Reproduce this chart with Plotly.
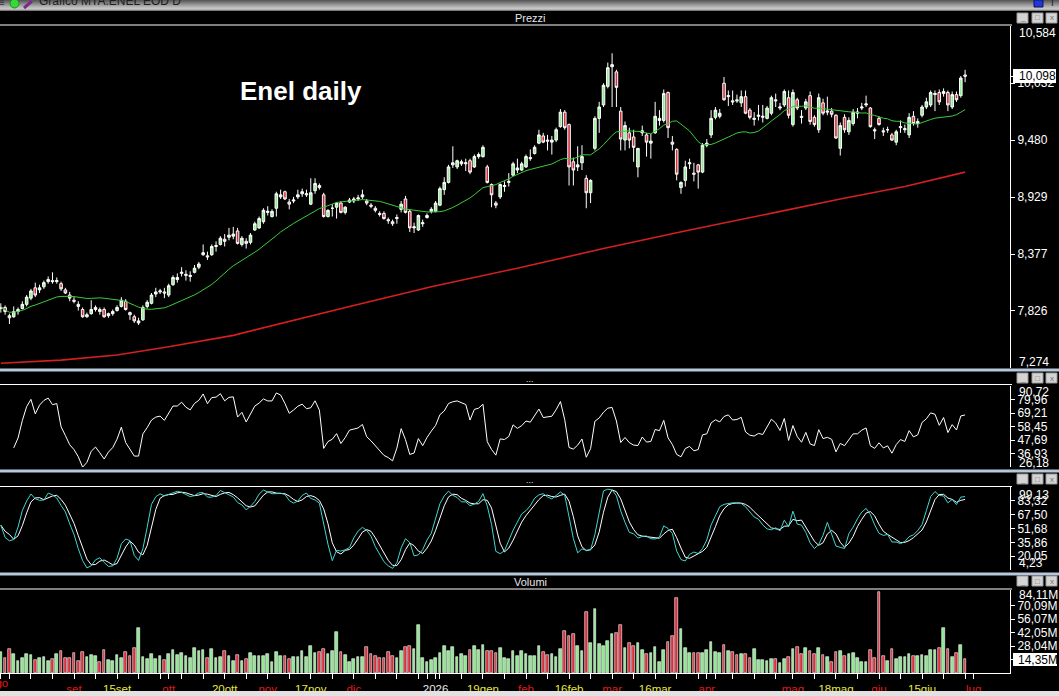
import plotly.graph_objects as go
import pandas as pd

W, H = 1059, 696

# ---------------- data ----------------
open_ = [7.85, 7.86, 7.78, 7.77, 7.82, 7.85, 7.89, 7.95, 8.05, 8.03,
         8.06, 8.11, 8.12, 8.11, 8.09, 8.03, 7.98, 7.93, 7.89, 7.84,
         7.77, 7.80, 7.84, 7.84, 7.84, 7.78, 7.80, 7.83, 7.87, 7.92,
         7.81, 7.77, 7.71, 7.74, 7.87, 7.90, 7.99, 8.01, 8.01, 7.98,
         8.08, 8.13, 8.19, 8.17, 8.16, 8.20, 8.25, 8.37, 8.36, 8.37,
         8.45, 8.47, 8.52, 8.54, 8.55, 8.60, 8.47, 8.50, 8.49, 8.61,
         8.63, 8.69, 8.78, 8.74, 8.82, 8.93, 8.98, 8.88, 8.89, 8.93,
         8.96, 8.95, 8.86, 8.99, 9.04, 8.95, 8.74, 8.82, 8.83, 8.87,
         8.78, 8.88, 8.89, 8.91, 8.93, 8.89, 8.85, 8.82, 8.77, 8.77,
         8.71, 8.69, 8.72, 8.81, 8.91, 8.79, 8.63, 8.61, 8.67, 8.73,
         8.79, 8.79, 8.85, 9.00, 9.07, 9.24, 9.22, 9.25, 9.25, 9.28,
         9.22, 9.32, 9.32, 9.22, 9.05, 8.87, 8.93, 9.03, 9.07, 9.14,
         9.19, 9.19, 9.22, 9.30, 9.35, 9.45, 9.52, 9.48, 9.46, 9.48,
         9.61, 9.75, 9.63, 9.27, 9.22, 9.26, 9.11, 8.97, 9.40, 9.69,
         9.82, 10.00, 10.19, 10.14, 9.76, 9.48, 9.55, 9.51, 9.22, 9.55,
         9.53, 9.45, 9.55, 9.67, 9.67, 9.94, 9.46, 9.39, 9.02, 9.09,
         9.25, 9.16, 9.24, 9.17, 9.43, 9.53, 9.70, 9.71, 10.03, 9.90,
         9.86, 9.87, 9.84, 9.90, 9.77, 9.68, 9.71, 9.70, 9.69, 9.74,
         9.87, 9.79, 9.82, 9.89, 9.63, 9.87, 9.71, 9.79, 9.91, 9.70,
         9.58, 9.84, 9.75, 9.76, 9.72, 9.40, 9.70, 9.56, 9.64, 9.74,
         9.79, 9.82, 9.79, 9.58, 9.69, 9.57, 9.58, 9.53, 9.46, 9.60,
         9.58, 9.53, 9.71, 9.64, 9.72, 9.80, 9.82, 9.92, 9.94, 9.93,
         9.94, 9.80, 9.92, 9.91, 10.11]

high = [7.90, 7.88, 7.80, 7.87, 7.86, 7.92, 7.98, 8.04, 8.10, 8.08,
        8.12, 8.16, 8.20, 8.15, 8.11, 8.05, 8.01, 7.96, 7.92, 7.86,
        7.81, 7.93, 7.88, 7.86, 7.86, 7.81, 7.84, 7.88, 7.96, 7.94,
        7.82, 7.79, 7.76, 7.88, 7.93, 8.00, 8.05, 8.04, 8.05, 8.09,
        8.17, 8.19, 8.25, 8.22, 8.21, 8.27, 8.30, 8.47, 8.40, 8.47,
        8.50, 8.55, 8.57, 8.63, 8.64, 8.63, 8.55, 8.53, 8.58, 8.69,
        8.74, 8.82, 8.84, 8.81, 8.98, 9.00, 8.99, 8.91, 8.93, 9.00,
        9.01, 9.00, 9.11, 9.11, 9.06, 8.97, 8.81, 8.86, 8.88, 8.89,
        8.84, 8.92, 8.93, 8.95, 9.00, 8.91, 8.87, 8.84, 8.79, 8.79,
        8.73, 8.71, 8.76, 8.89, 8.94, 8.81, 8.68, 8.76, 8.71, 8.77,
        8.83, 8.89, 9.03, 9.12, 9.24, 9.42, 9.29, 9.29, 9.30, 9.30,
        9.34, 9.36, 9.43, 9.24, 9.06, 8.89, 9.06, 9.08, 9.16, 9.27,
        9.30, 9.27, 9.34, 9.39, 9.43, 9.58, 9.55, 9.53, 9.52, 9.60,
        9.78, 9.77, 9.64, 9.31, 9.42, 9.43, 9.14, 9.10, 9.71, 9.85,
        10.03, 10.23, 10.32, 10.16, 9.80, 9.66, 9.60, 9.58, 9.40, 9.62,
        9.55, 9.54, 9.85, 9.77, 9.97, 9.95, 9.52, 9.40, 9.08, 9.28,
        9.30, 9.26, 9.25, 9.45, 9.49, 9.77, 9.80, 9.78, 10.09, 9.96,
        9.96, 9.92, 9.96, 9.96, 9.79, 9.75, 9.82, 9.82, 9.81, 9.91,
        9.93, 9.84, 9.97, 9.96, 9.97, 9.89, 9.77, 9.88, 9.95, 9.72,
        9.93, 9.88, 9.90, 9.79, 9.73, 9.65, 9.73, 9.70, 9.78, 9.79,
        9.84, 9.91, 9.80, 9.60, 9.71, 9.60, 9.61, 9.55, 9.58, 9.67,
        9.63, 9.74, 9.76, 9.69, 9.82, 9.89, 9.96, 9.96, 9.97, 9.98,
        9.96, 9.95, 9.95, 10.10, 10.16]

low = [7.81, 7.79, 7.70, 7.76, 7.79, 7.84, 7.87, 7.93, 7.96, 8.00,
       8.04, 8.09, 8.09, 8.09, 8.02, 7.99, 7.92, 7.90, 7.83, 7.76,
       7.76, 7.79, 7.82, 7.79, 7.76, 7.76, 7.78, 7.82, 7.86, 7.83,
       7.74, 7.71, 7.69, 7.73, 7.85, 7.89, 7.96, 7.99, 7.95, 7.96,
       8.07, 8.10, 8.16, 8.12, 8.11, 8.19, 8.23, 8.36, 8.32, 8.36,
       8.40, 8.46, 8.45, 8.51, 8.52, 8.47, 8.45, 8.43, 8.47, 8.60,
       8.62, 8.67, 8.75, 8.73, 8.74, 8.91, 8.90, 8.81, 8.87, 8.91,
       8.93, 8.93, 8.85, 8.96, 9.00, 8.73, 8.73, 8.74, 8.72, 8.77,
       8.76, 8.87, 8.87, 8.89, 8.91, 8.85, 8.82, 8.78, 8.74, 8.71,
       8.67, 8.65, 8.67, 8.78, 8.77, 8.59, 8.58, 8.60, 8.64, 8.72,
       8.77, 8.78, 8.84, 8.95, 9.06, 9.21, 9.20, 9.23, 9.18, 9.15,
       9.21, 9.30, 9.31, 9.06, 8.83, 8.82, 8.91, 8.98, 9.03, 9.13,
       9.16, 9.18, 9.21, 9.28, 9.34, 9.44, 9.45, 9.38, 9.34, 9.46,
       9.60, 9.58, 9.04, 9.04, 9.18, 9.19, 8.82, 8.87, 9.38, 9.55,
       9.80, 9.98, 9.80, 9.80, 9.38, 9.38, 9.40, 9.27, 9.12, 9.52,
       9.32, 9.30, 9.54, 9.62, 9.65, 9.50, 9.38, 9.09, 8.96, 9.03,
       9.20, 9.08, 9.01, 9.16, 9.41, 9.50, 9.68, 9.69, 9.86, 9.81,
       9.82, 9.84, 9.80, 9.73, 9.68, 9.62, 9.67, 9.65, 9.68, 9.72,
       9.80, 9.77, 9.80, 9.69, 9.61, 9.77, 9.64, 9.77, 9.63, 9.61,
       9.55, 9.72, 9.72, 9.70, 9.49, 9.33, 9.55, 9.53, 9.62, 9.69,
       9.77, 9.80, 9.60, 9.49, 9.62, 9.52, 9.55, 9.47, 9.43, 9.55,
       9.55, 9.50, 9.62, 9.60, 9.70, 9.78, 9.80, 9.76, 9.82, 9.90,
       9.76, 9.78, 9.85, 9.89, 10.04]

close = [7.86, 7.82, 7.76, 7.82, 7.84, 7.89, 7.96, 8.02, 7.98, 8.05,
         8.10, 8.13, 8.11, 8.12, 8.04, 8.00, 7.95, 7.92, 7.87, 7.77,
         7.79, 7.84, 7.86, 7.82, 7.77, 7.80, 7.82, 7.86, 7.93, 7.84,
         7.79, 7.73, 7.73, 7.86, 7.91, 7.98, 8.01, 8.02, 8.00, 8.07,
         8.15, 8.15, 8.20, 8.18, 8.17, 8.24, 8.28, 8.39, 8.35, 8.45,
         8.46, 8.53, 8.50, 8.56, 8.57, 8.48, 8.53, 8.48, 8.56, 8.67,
         8.72, 8.80, 8.79, 8.79, 8.96, 8.95, 8.91, 8.86, 8.90, 8.95,
         8.98, 8.96, 8.97, 9.06, 9.02, 8.74, 8.80, 8.82, 8.87, 8.78,
         8.83, 8.90, 8.91, 8.92, 8.95, 8.87, 8.84, 8.80, 8.76, 8.72,
         8.70, 8.67, 8.73, 8.86, 8.78, 8.63, 8.64, 8.75, 8.68, 8.75,
         8.81, 8.87, 9.01, 9.07, 9.22, 9.26, 9.28, 9.27, 9.26, 9.17,
         9.32, 9.34, 9.41, 9.07, 8.95, 8.85, 9.05, 9.04, 9.08, 9.25,
         9.21, 9.25, 9.32, 9.31, 9.41, 9.53, 9.46, 9.47, 9.48, 9.58,
         9.75, 9.60, 9.22, 9.19, 9.24, 9.32, 8.97, 9.09, 9.69, 9.80,
         10.01, 10.18, 10.21, 9.99, 9.49, 9.62, 9.48, 9.41, 9.40, 9.57,
         9.46, 9.47, 9.71, 9.69, 9.93, 9.60, 9.44, 9.15, 9.07, 9.22,
         9.26, 9.15, 9.17, 9.43, 9.45, 9.69, 9.77, 9.74, 9.87, 9.91,
         9.85, 9.86, 9.90, 9.74, 9.70, 9.69, 9.72, 9.71, 9.79, 9.89,
         9.86, 9.80, 9.95, 9.72, 9.94, 9.79, 9.70, 9.85, 9.66, 9.63,
         9.89, 9.74, 9.76, 9.73, 9.50, 9.62, 9.58, 9.67, 9.75, 9.75,
         9.80, 9.83, 9.61, 9.57, 9.63, 9.56, 9.58, 9.48, 9.56, 9.61,
         9.59, 9.70, 9.64, 9.66, 9.80, 9.85, 9.94, 9.93, 9.85, 9.95,
         9.82, 9.92, 9.87, 10.08, 10.098]

volume_m = [22, 15.5, 25, 20, 12.5, 15.5, 19.5, 19, 13, 15.5,
            16.5, 12.5, 14.5, 19.5, 22.5, 15.5, 15.5, 20.5, 12.5, 21.5,
            16.5, 19, 17.5, 11.5, 24, 13.5, 12.5, 19, 15.5, 21.5,
            18, 26, 47, 16.5, 14.5, 19.5, 14.5, 17.5, 13.5, 19.5,
            24, 19, 20.5, 18, 15.5, 26, 23, 24, 16, 25,
            16, 16.5, 22.5, 17.5, 12.5, 18.5, 12.5, 14.5, 20.5, 17.5,
            17.5, 17.5, 19.5, 11.5, 22, 17.5, 17.5, 14.5, 16.5, 16.5,
            22.5, 16.5, 28, 20.5, 21.5, 25, 19.5, 22.5, 42.5, 21.5,
            19, 11.5, 14.5, 16.5, 16.5, 27, 19.5, 17.5, 15.5, 16,
            21.5, 17.5, 16, 22.5, 27, 28, 25, 50, 15.5, 11.5,
            13.5, 15.5, 20.5, 28, 22.5, 27, 16.5, 19.5, 17.5, 24,
            28, 24, 29, 22.5, 22.5, 20.5, 26, 15.5, 14.5, 22.5,
            17.5, 22.5, 19.5, 18, 17.5, 28, 21.5, 19, 20, 16.5,
            25, 43.5, 38, 40, 28, 22.5, 63, 31, 66, 30,
            28, 33, 40, 41.5, 50, 26, 31, 28, 31, 23.5,
            19.5, 20.5, 27, 11.5, 24, 32, 38, 78, 45.5, 26,
            21, 21, 21, 21, 24, 32, 22, 21, 29, 22.5,
            21.5, 18.5, 19.5, 19.5, 15.5, 25, 13.5, 13.5, 12.5, 14.5,
            14.5, 10.5, 14.5, 16.5, 25, 27, 19.5, 26, 22.5, 19.5,
            26, 18.5, 16.5, 11.5, 21.5, 22.5, 17.5, 19.5, 20.5, 15.5,
            11.5, 11.5, 24, 15.5, 84, 17.5, 12.5, 25, 14.5, 16.5,
            16.5, 19.5, 17.5, 17.5, 19, 17.5, 24, 24, 26, 47,
            25, 16.5, 21, 29, 14.35]

# 200-day moving average (red), read at a few bars
ma200_bar = [0, 14, 27, 39, 54, 70, 81, 100, 120, 140, 160, 180, 195, 210, 224]
ma200_val = [7.32, 7.35, 7.40, 7.48, 7.59, 7.76, 7.87, 8.06, 8.24, 8.43, 8.61, 8.78, 8.91, 9.03, 9.17]

holidays = ["2025-12-24", "2025-12-25", "2025-12-26", "2025-12-31", "2026-01-01",
            "2026-04-03", "2026-04-06", "2026-05-01"]
label_dates = ["2025-09-01", "2025-09-15", "2025-10-01", "2025-10-20", "2025-11-03", "2025-11-17",
               "2025-12-01", "2026-01-02", "2026-01-19", "2026-02-02", "2026-02-16", "2026-03-02",
               "2026-03-16", "2026-04-01", "2026-05-04", "2026-05-18", "2026-06-01", "2026-06-15",
               "2026-07-01"]
label_text = ["set", "15set", "ott", "20ott", "nov", "17nov", "dic", "2026", "19gen", "feb", "16feb",
              "mar", "16mar", "apr", "mag", "18mag", "giu", "15giu", "lug"]
label_kind = ["m", "d", "m", "d", "m", "d", "m", "y", "d", "m", "d", "m", "d", "m", "m", "d", "m", "d", "m"]

price_ticks = [7.274, 7.826, 8.377, 8.929, 9.480, 10.032, 10.584]
rsi_ticks = [26.18, 36.93, 47.69, 58.45, 69.21, 79.96, 90.72]
stoch_ticks = [4.23, 20.05, 35.86, 51.68, 67.50, 83.32, 99.13]
vol_ticks = [0, 14.02, 28.04, 42.05, 56.07, 70.09, 84.11]

# ---------------- derived ----------------
N = len(close)
cal = [d for d in pd.bdate_range("2025-08-07", "2026-07-03") if d.strftime("%Y-%m-%d") not in holidays]
cal_s = [d.strftime("%Y-%m-%d") for d in cal]
pos = {s: i for i, s in enumerate(cal_s)}
x = list(range(N))

c = pd.Series(close)
hi = pd.Series([max(a, b, h) for a, b, h in zip(open_, close, high)])
lo = pd.Series([min(a, b, l) for a, b, l in zip(open_, close, low)])

ma20 = c.rolling(20, min_periods=1).mean()

d = c.diff()
g = d.clip(lower=0)
l_ = (-d).clip(lower=0)
ag = g.ewm(alpha=1 / 9, adjust=True).mean()
al = l_.ewm(alpha=1 / 9, adjust=True).mean()
rsi = 100 - 100 / (1 + ag / al)
rsi[:3] = None

hh = hi.rolling(14, min_periods=1).max()
ll = lo.rolling(14, min_periods=1).min()
kraw = 100 * (c - ll) / (hh - ll)
k_slow = kraw.rolling(3, min_periods=1).mean()
d_slow = k_slow.rolling(3, min_periods=1).mean()

up = [cl >= op for op, cl in zip(open_, close)]
vol_colors = ["#8fe88f" if u else "#d8303c" for u in up]

# ---------------- figure ----------------
def X(p):
    return p / W


def Y(p):
    return 1 - p / H


XR = [-0.19, 234.43]
XD = [0, 1010 / W]
FONT = "Liberation Sans, Arial, sans-serif"

fig = go.Figure()
fig.add_trace(go.Candlestick(
    x=x, open=open_, high=hi, low=lo, close=close,
    increasing=dict(fillcolor="#93ec93", line=dict(color="white", width=1)),
    decreasing=dict(fillcolor="#cc2e3a", line=dict(color="white", width=1)),
    xaxis="x", yaxis="y", showlegend=False, hoverinfo="skip"))
fig.add_trace(go.Scatter(x=x, y=ma20, mode="lines", line=dict(color="#3ccc3c", width=1),
                         xaxis="x", yaxis="y", showlegend=False, hoverinfo="skip"))
fig.add_trace(go.Scatter(x=ma200_bar, y=ma200_val, mode="lines", line=dict(color="#d42020", width=1.6),
                         xaxis="x", yaxis="y", showlegend=False, hoverinfo="skip"))
fig.add_trace(go.Scatter(x=x, y=rsi, mode="lines", line=dict(color="white", width=1),
                         xaxis="x2", yaxis="y2", showlegend=False, hoverinfo="skip"))
fig.add_trace(go.Scatter(x=x, y=d_slow, mode="lines", line=dict(color="white", width=1),
                         xaxis="x3", yaxis="y3", showlegend=False, hoverinfo="skip"))
fig.add_trace(go.Scatter(x=x, y=k_slow, mode="lines", line=dict(color="#3fd8d0", width=1),
                         xaxis="x3", yaxis="y3", showlegend=False, hoverinfo="skip"))
fig.add_trace(go.Bar(x=x, y=volume_m, width=0.62,
                     marker=dict(color=vol_colors, line=dict(color="white", width=0.6)),
                     xaxis="x4", yaxis="y4", showlegend=False, hoverinfo="skip"))

tick_font = dict(family=FONT, size=12, color="white")


def yax(dom_px, rng, tv, tt):
    return dict(domain=[Y(dom_px[1]), Y(dom_px[0])], range=rng, side="right",
                tickvals=tv, ticktext=tt, ticks="outside", ticklen=4, tickcolor="white",
                showline=True, linecolor="white", linewidth=1, showgrid=False, zeroline=False,
                tickfont=tick_font, fixedrange=True)


def fmt(v, dec):
    return f"{v:.{dec}f}".replace(".", ",")


price_dom = (26, 368)
rsi_dom = (386, 467)
sto_dom = (487, 570)
vol_dom = (590, 673)

layout_axes = dict(
    yaxis=yax(price_dom, [price_ticks[0], price_ticks[-1]], price_ticks[1:-1] + [10.098],
              [fmt(v, 3) for v in price_ticks[1:-1]] + [""]),
    yaxis2=yax(rsi_dom, [rsi_ticks[0], rsi_ticks[-1]], rsi_ticks[1:-1], [fmt(v, 2) for v in rsi_ticks[1:-1]]),
    yaxis3=yax(sto_dom, [stoch_ticks[0], stoch_ticks[-1]], stoch_ticks[1:-1],
               [fmt(v, 2) for v in stoch_ticks[1:-1]]),
    yaxis4=yax(vol_dom, [0, 86.2], vol_ticks[1:-1] + [14.35],
               [fmt(v, 2) + "M" for v in vol_ticks[1:-1]] + [""]),
)
for k, ya in zip(["yaxis", "yaxis2", "yaxis3", "yaxis4"], ["x", "x2", "x3", "x4"]):
    layout_axes[k]["anchor"] = ya

col = {"m": "#e01818", "d": "#e8e83a", "y": "#e8e8e8"}
tv = [pos[s] for s in label_dates]
tt = [f'<span style="color:{col[k]}">{t}</span>' for t, k in zip(label_text, label_kind)]
week_starts = []
prev = None
for i, dd in enumerate(cal):
    wk = dd.isocalendar()[1]
    if wk != prev:
        week_starts.append(i)
    prev = wk

base_x = dict(domain=XD, range=XR, showgrid=False, zeroline=False, showticklabels=False,
              fixedrange=True, rangeslider=dict(visible=False))
layout_axes["xaxis"] = dict(base_x, anchor="y")
layout_axes["xaxis2"] = dict(base_x, anchor="y2", matches="x")
layout_axes["xaxis3"] = dict(base_x, anchor="y3", matches="x")
layout_axes["xaxis4"] = dict(base_x, anchor="y4", matches="x", showticklabels=True,
                             tickvals=tv, ticktext=tt, ticks="outside", ticklen=5, tickcolor="white",
                             showline=True, linecolor="white", linewidth=1,
                             tickfont=dict(family=FONT, size=11.5, color="white"),
                             minor=dict(tickvals=week_starts, ticks="outside", ticklen=5,
                                        tickcolor="white"))

shapes = []
ann = []


def rect(x0, y0, x1, y1, fill, line=None, lw=0):
    shapes.append(dict(type="rect", xref="paper", yref="paper", x0=X(x0), x1=X(x1), y0=Y(y1), y1=Y(y0),
                       fillcolor=fill, line=dict(color=line or fill, width=lw), layer="above"))


def hline(y, x0, x1, color, w=1):
    shapes.append(dict(type="line", xref="paper", yref="paper", x0=X(x0), x1=X(x1), y0=Y(y), y1=Y(y),
                       line=dict(color=color, width=w), layer="above"))


def text(s, xp, yp, size=11, color="white", xanchor="center", yanchor="middle", bold=False, bg=None):
    a = dict(text=f"<b>{s}</b>" if bold else s, xref="paper", yref="paper", x=X(xp), y=Y(yp),
             xanchor=xanchor, yanchor=yanchor, showarrow=False,
             font=dict(family=FONT, size=size, color=color))
    if bg:
        a.update(bgcolor=bg, borderpad=1)
    ann.append(a)


# window title bar (gradient)
for k, colr in enumerate(["#5a5a5a", "#686868", "#777777", "#868686", "#949494", "#a2a2a2", "#b0b0b0",
                          "#bcbcbc", "#c6c6c6"]):
    rect(0, k, W, k + 1, colr)
hline(9.8, 0, W, "#f0f0f0", 1.2)
text("Grafico MTA.ENEL EOD D", 37, 10.5, size=12, color="#1c1c1c", xanchor="left", yanchor="bottom")
shapes.append(dict(type="circle", xref="paper", yref="paper", x0=X(10), x1=X(19), y0=Y(8), y1=Y(-1),
                   fillcolor="#36d936", line=dict(color="#1e8a1e", width=1), layer="above"))
shapes.append(dict(type="line", xref="paper", yref="paper", x0=X(24), x1=X(32), y0=Y(8), y1=Y(1),
                   line=dict(color="#7a2a8a", width=3), layer="above"))
text("≡", 2, 3, size=10, color="#303030")
rect(1034, 0, 1043, 7, "#2038d8", "#101060", 1)
text("I", 1052, 3, size=10, color="#202020")

# panel headers
hline(25, 0, 1012, "white", 1)
text("Prezzi", 530, 18, size=11, color="#e6e6e6")
for ysep, yhead, yline, title in [(370, 378.5, 384.5, "..."), (471, 480, 486.5, "..."),
                                  (574, 582, 589, "Volumi")]:
    rect(0, ysep - 1.5, W, ysep + 1.5, "#b8c8dc")
    hline(yline, 0, 1012, "white", 1)
    text(title, 530, yhead, size=11 if title == "Volumi" else 9, color="#e6e6e6")

# window buttons on each header
for yb in [13, 373, 474, 576]:
    for bx, glyph in zip([1017, 1032, 1046], ["_", "□", "x"]):
        rect(bx, yb, bx + 11, yb + 10, "#d4d4d4", "#9a9a9a", 1)
        text(glyph, bx + 5.5, yb + 5, size=8, color="#707070")

# edge labels of the right scales (kept inside the panel like the original)
text(fmt(price_ticks[-1], 3), 1017, 33, size=12, xanchor="left")
text(fmt(price_ticks[0], 3), 1017, 362, size=12, xanchor="left")
text(fmt(rsi_ticks[-1], 2), 1017, 392, size=12, xanchor="left")
text(fmt(rsi_ticks[0], 2), 1017, 463, size=12, xanchor="left")
text(fmt(stoch_ticks[-1], 2), 1017, 495, size=12, xanchor="left")
text(fmt(stoch_ticks[0], 2), 1017, 563, size=12, xanchor="left")
text(fmt(vol_ticks[-1], 2) + "M", 1017, 595, size=12, xanchor="left")

# last value boxes
rect(1013, 69, 1056, 83, "white")
text(fmt(close[-1], 3), 1017, 76, size=12, color="black", xanchor="left")
rect(1013, 653, 1057, 666, "white")
text(fmt(volume_m[-1], 2) + "M", 1016, 659.5, size=12, color="black", xanchor="left")

# chart title
text("Enel daily", 301, 91, size=26, color="white", bold=True)

# partially visible first month label
text('<span style="color:#e01818">ago</span>', 10, 683, size=11.5, xanchor="right")

# bottom frame strip
rect(0, 691, W, 696, "#e2e2e2")

fig.update_layout(
    width=W, height=H, autosize=False,
    margin=dict(l=0, r=0, t=0, b=0, pad=0),
    paper_bgcolor="black", plot_bgcolor="black",
    showlegend=False, hovermode=False, bargap=0, boxgap=0.15,
    shapes=shapes, annotations=ann,
    **layout_axes,
)

fig.write_html("out.html", config={"displayModeBar": False},
               post_script="document.body.style.margin='0';document.body.style.padding='0';"
                           "document.body.style.background='black';document.body.style.overflow='hidden';")
